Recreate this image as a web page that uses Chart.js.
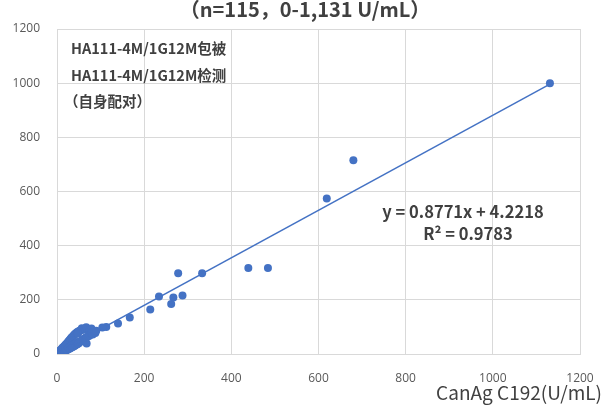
<!DOCTYPE html>
<html lang="zh-CN">
<head>
    <meta charset="UTF-8">
    <script src="https://cdn.jsdelivr.net/npm/chart.js"></script>
    <title>CanAg C192 相关性</title>
    <style>
      body { margin: 0; background: #fff; }
    </style>
</head>
<body>
  <div style="width: 605px; height: 405px;">
    <canvas id="grafico"></canvas>
  </div>

  <script>
    // valores (x = CanAg C192, y = HA111-4M/1G12M)
    const valoresX = [1131, 680, 619, 484, 439, 333, 278, 288, 267, 262, 234, 214, 167, 140, 113, 104,
      1, 2, 3, 4, 5, 5, 6, 7, 8, 8, 9, 10, 10, 11, 12, 12, 13, 14, 14, 15,
      16, 16, 17, 18, 18, 19, 20, 20, 21, 22, 22, 23, 24, 24, 25, 26, 26, 27, 28, 28,
      29, 30, 30, 31, 32, 32, 33, 34, 34, 35, 36, 36, 37, 38, 38, 39, 40, 40, 41, 42,
      42, 43, 44, 44, 45, 46, 46, 47, 48, 48, 50, 50, 52, 52, 54, 55, 56, 57, 58, 60,
      60, 62, 64, 65, 67, 68, 68, 70, 72, 75, 75, 78, 79, 80, 82, 85, 88, 90, 48]
    const valoresY = [1000, 715, 574, 318, 318, 298, 298, 216, 209, 185, 212, 164, 135, 113, 100, 98,
      2, 1, 6, 2, 9, 2, 5, 12, 4, 15, 6, 18, 6, 8, 22, 8, 10, 25, 9, 11,
      28, 11, 14, 31, 10, 17, 35, 13, 19, 38, 15, 21, 42, 16, 24, 46, 18, 23, 50, 21,
      26, 54, 20, 27, 58, 23, 30, 62, 25, 32, 64, 26, 34, 68, 29, 35, 72, 30, 38, 75,
      32, 40, 78, 34, 42, 80, 36, 44, 82, 38, 84, 40, 44, 86, 46, 88, 48, 95, 52, 90,
      50, 56, 92, 60, 99, 39, 62, 88, 66, 90, 68, 75, 94, 80, 72, 84, 78, 86, 75]
    const ticksEixo = [0, 200, 400, 600, 800, 1000, 1200]
    const inclinacao = 0.8771
    const intercepto = 4.2218

    const pontos = valoresX.map((x, i) => ({ x: x, y: valoresY[i] }))
    const xMax = Math.max(...valoresX)
    const tendencia = [
      { x: 0, y: intercepto },
      { x: xMax, y: inclinacao * xMax + intercepto }
    ]

    const textos = {
      id: 'textos',
      afterDraw(chart) {
        const c = chart.ctx
        c.save()
        c.fillStyle = '#404040'
        c.textBaseline = 'middle'
        c.textAlign = 'center'
        c.font = 'bold 20px "Noto Sans CJK SC"'
        c.fillText('（n=115，0-1,131 U/mL）', 305, 9)

        c.textAlign = 'left'
        c.font = 'bold 14.5px "Noto Sans CJK SC"'
        c.fillText('HA111-4M/1G12M包被', 71, 48)
        c.fillText('HA111-4M/1G12M检测', 71, 75)
        c.fillText('（自身配对）', 64, 101)

        c.textAlign = 'center'
        c.font = 'bold 16.5px "Noto Sans CJK SC"'
        c.fillText('y = 0.8771x + 4.2218', 463, 212)
        c.fillText('R² = 0.9783', 468, 234)

        c.textAlign = 'right'
        c.font = '19px "Noto Sans CJK SC"'
        c.fillText('CanAg C192(U/mL)', 602, 393)
        c.restore()
      }
    }

    const ctx = document.getElementById('grafico')
    new Chart(ctx, {
      type: 'scatter',
      data: {
        datasets: [
          {
            label: 'pontos',
            data: pontos,
            backgroundColor: '#4472C4',
            borderWidth: 0,
            pointRadius: 4,
            order: 0
          },
          {
            type: 'line',
            label: 'tendencia',
            data: tendencia,
            borderColor: '#4472C4',
            borderWidth: 1.5,
            pointRadius: 0,
            fill: false,
            order: 1
          }
        ]
      },
      options: {
        responsive: true,
        maintainAspectRatio: false,
        animation: false,
        layout: { padding: { top: 29, right: 25, left: 0, bottom: 0 } },
        plugins: {
          legend: { display: false },
          tooltip: { enabled: false }
        },
        scales: {
          x: {
            type: 'linear',
            min: 0,
            max: 1200,
            afterBuildTicks: s => { s.ticks = ticksEixo.map(v => ({ value: v })) },
            afterFit: s => { s.height = 51; s.paddingRight = 0; s.paddingLeft = 0 },
            grid: { color: '#d9d9d9', drawTicks: false },
            border: { color: '#d9d9d9' },
            ticks: { padding: 17, color: '#595959', font: { size: 12, family: 'Open Sans' }, callback: v => String(v) }
          },
          y: {
            type: 'linear',
            min: 0,
            max: 1200,
            afterBuildTicks: s => { s.ticks = ticksEixo.map(v => ({ value: v })) },
            afterFit: s => { s.width = 57 },
            grid: { color: '#d9d9d9', drawTicks: false },
            border: { color: '#d9d9d9' },
            ticks: { padding: 17, color: '#595959', font: { size: 12, family: 'Open Sans' }, callback: v => String(v) }
          }
        }
      },
      plugins: [textos]
    })
  </script>
</body>
</html>
